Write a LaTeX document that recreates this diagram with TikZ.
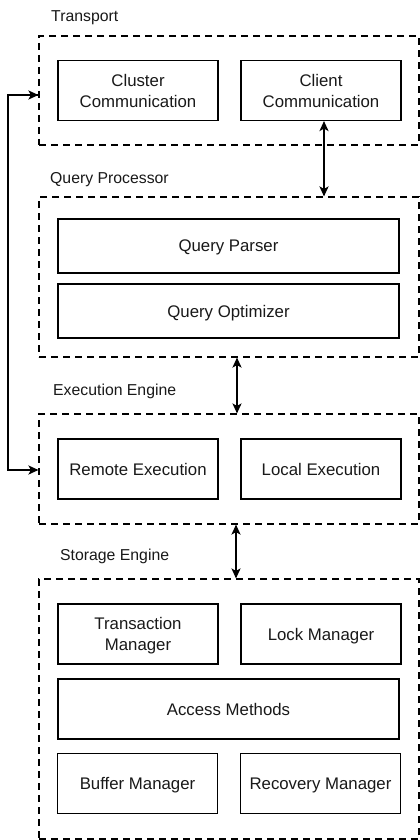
\documentclass[tikz,border=0pt]{standalone}
\usepackage{fontspec}
\setmainfont{Liberation Sans}
\usetikzlibrary{arrows.meta,calc}
\begin{document}
\begin{tikzpicture}[x=1pt,y=-1pt,
  box/.style={draw=black,line width=1.1pt,inner sep=0pt,align=center,text depth=0pt,
    font=\fontsize{16.8}{21}\selectfont,text=black!90},
  grp/.style={draw=black,line width=1.1pt,dash pattern=on 7pt off 5pt,inner sep=0pt},
  lbl/.style={anchor=west,inner sep=0pt,text depth=0pt,font=\fontsize{15.8}{19}\selectfont,text=black!90},
  arr/.style={line width=2pt,{Stealth[length=10pt,width=9pt,inset=2.5pt]}-{Stealth[length=10pt,width=9pt,inset=2.5pt]}},
  arrone/.style={line width=2pt,-{Stealth[length=10pt,width=9pt,inset=2.5pt]}}]
\useasboundingbox (0,0) rectangle (420,840);
\fill[white] (0,0) rectangle (420,840);

% groups
\node[grp,minimum width=380pt,minimum height=109pt] (tr) at (229,90.5) {};
\node[grp,minimum width=380pt,minimum height=160pt] (qpg) at (229,277) {};
\node[grp,minimum width=380pt,minimum height=110pt] (ex) at (229,469) {};
\node[grp,minimum width=380pt,minimum height=260pt] (st) at (229,709) {};

% labels
\node[lbl] (ltr) at (51,16) {Transport};
\node[lbl] (lqp) at (50,178) {Query Processor};
\node[lbl] (lex) at (53,390) {Execution Engine};
\node[lbl] (lst) at (60,555) {Storage Engine};

% boxes
\node[box,minimum width=160pt,minimum height=60pt] (cc) at (138,90.5) {Cluster\\Communication};
\node[box,minimum width=160pt,minimum height=60pt] (cl) at (321,90.5) {Client\\Communication};
\node[box,minimum width=341pt,minimum height=54pt] (qp) at (228.5,246) {Query Parser};
\node[box,minimum width=341pt,minimum height=54pt] (qo) at (228.5,311) {Query Optimizer};
\node[box,minimum width=160pt,minimum height=60pt] (re) at (138,469) {Remote Execution};
\node[box,minimum width=160pt,minimum height=60pt] (le) at (321,469) {Local Execution};
\node[box,minimum width=160pt,minimum height=60pt] (tm) at (138,634) {Transaction\\Manager};
\node[box,minimum width=160pt,minimum height=60pt] (lm) at (321,634) {Lock Manager};
\node[box,minimum width=341pt,minimum height=60pt] (am) at (228.5,709) {Access Methods};
\node[box,minimum width=160pt,minimum height=60pt] (bm) at (137.5,783.5) {Buffer Manager};
\node[box,minimum width=160pt,minimum height=60pt] (rm) at (320.5,783.5) {Recovery Manager};

% connectors
\draw[arr] ([xshift=3pt]cl.south) -- ([xshift=3pt]cl.south |- qpg.north);
\draw[arr] ([xshift=8pt]qpg.south) -- ([xshift=8pt]qpg.south |- ex.north);
\draw[arr] ([xshift=7pt]ex.south) -- ([xshift=7pt]ex.south |- st.north);
\draw[arrone] ([yshift=-4.5pt]tr.west) -- ++(-30,0) coordinate (tl) |- ([yshift=-1pt]ex.west);
\draw[arrone] (tl) -- ([yshift=-4.5pt]tr.west);
\end{tikzpicture}
\end{document}
